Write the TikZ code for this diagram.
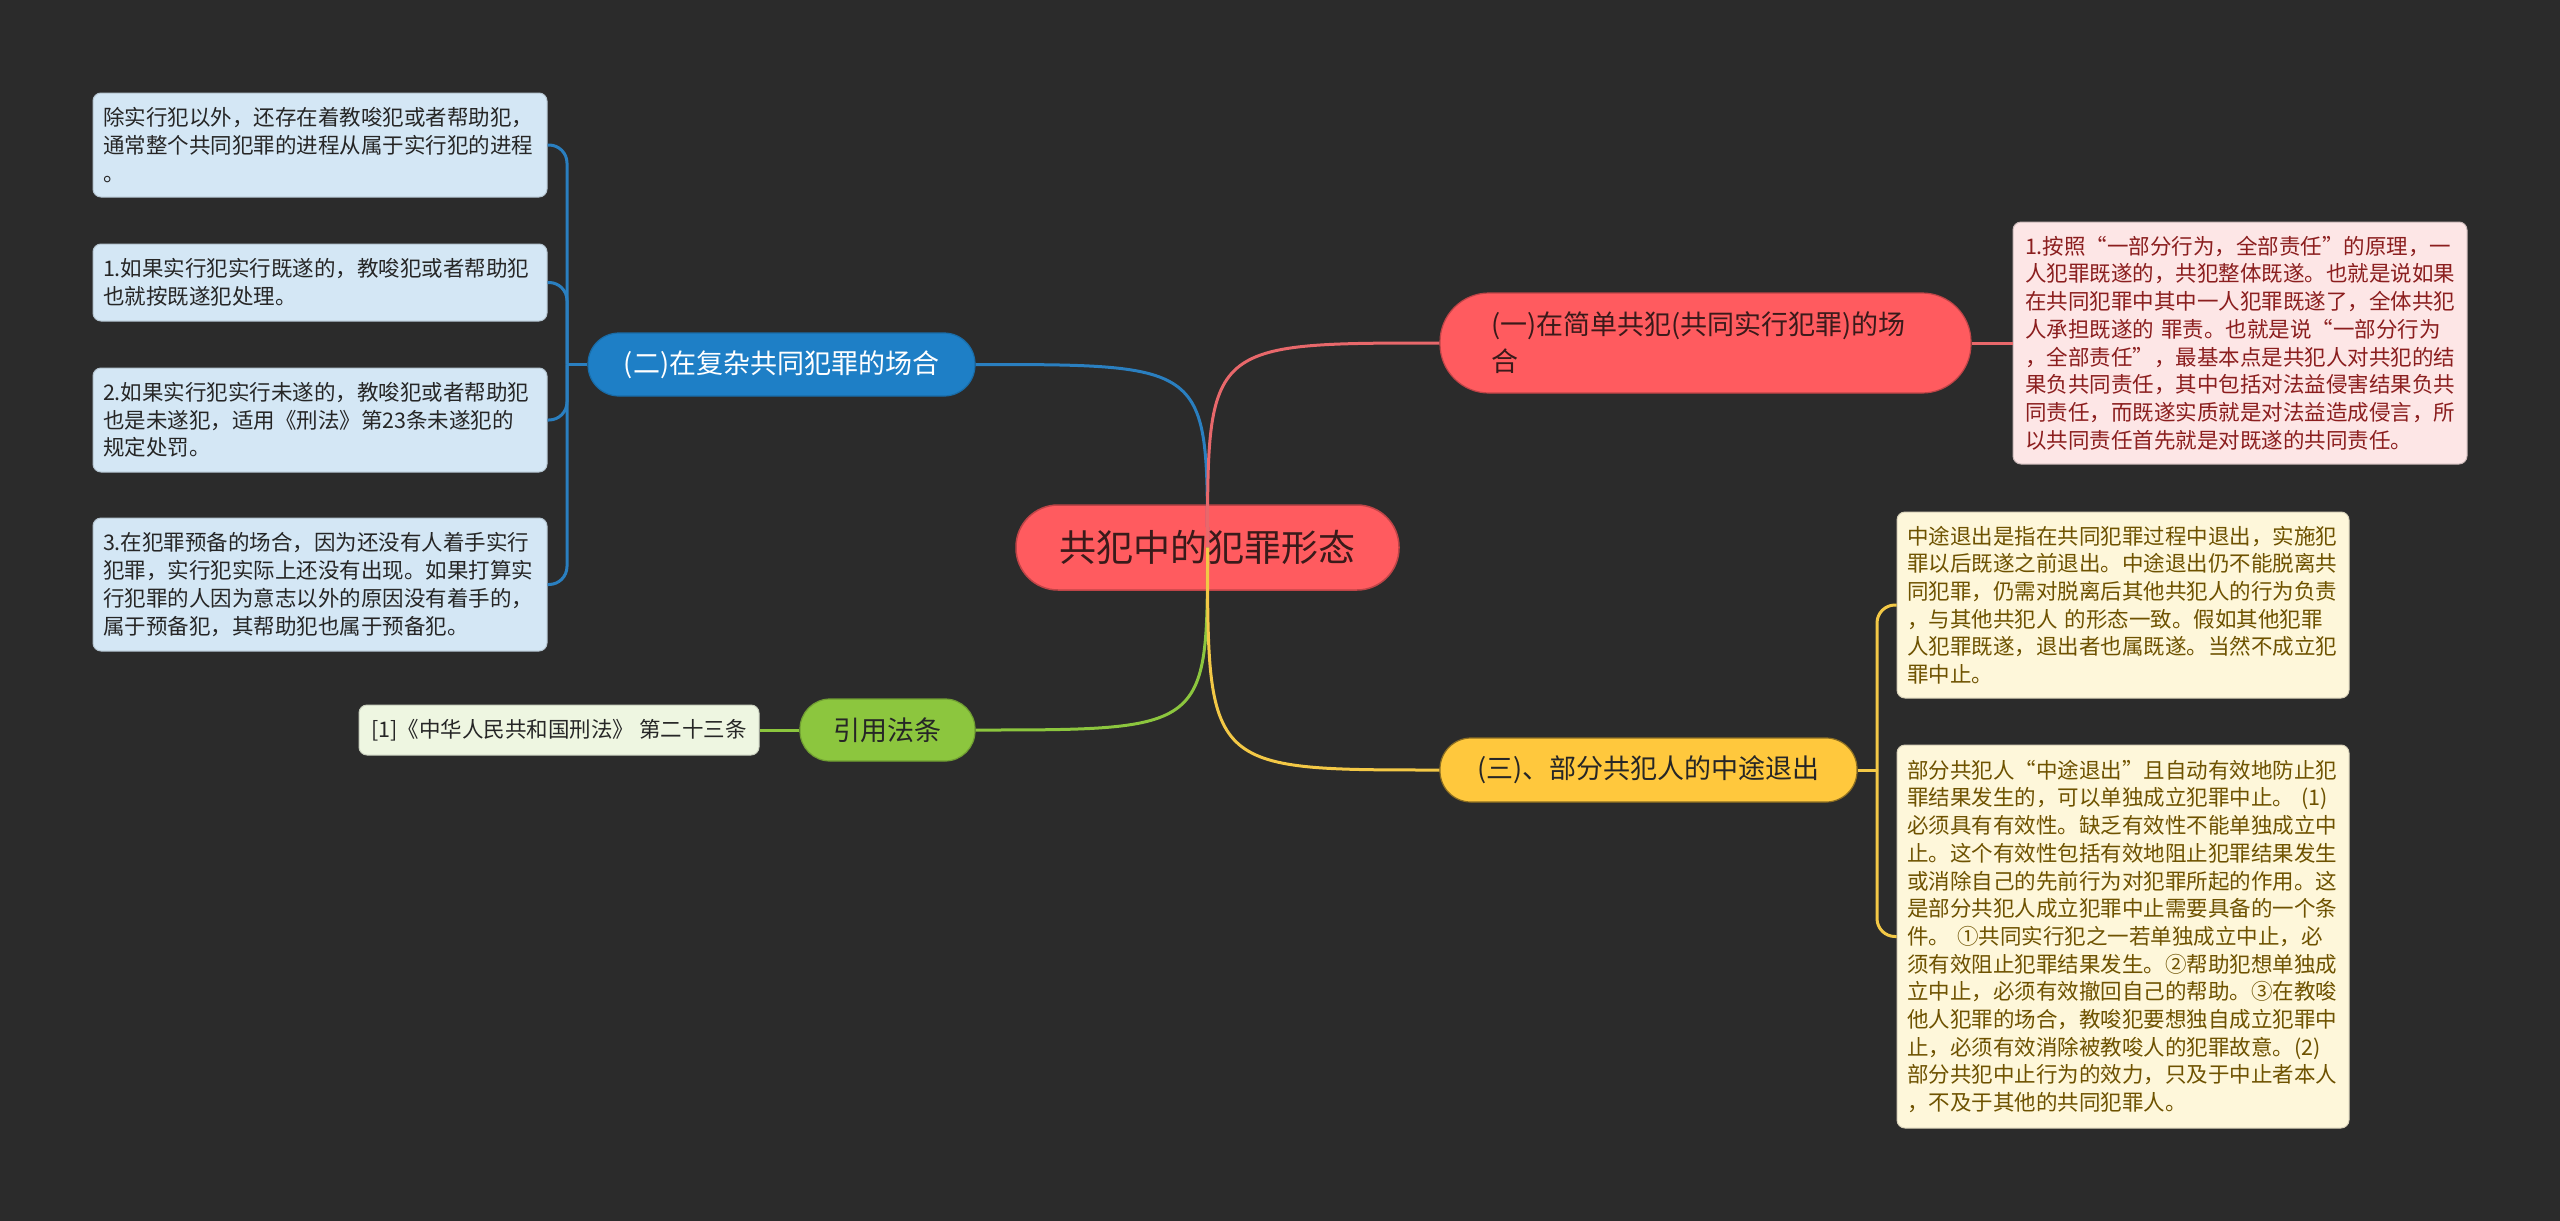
\documentclass[tikz,border=0pt]{standalone}
\usepackage{fontspec}
\setmainfont{Noto Sans CJK SC}
\usetikzlibrary{calc}
\definecolor{bgc}{HTML}{2B2B2B}
\definecolor{rootc}{HTML}{FF5B5F}
\definecolor{roottxt}{HTML}{3A1A1A}
\definecolor{redl}{HTML}{E8686B}
\definecolor{bluec}{HTML}{1E7FC6}
\definecolor{bluel}{HTML}{2A7FC0}
\definecolor{greenc}{HTML}{8CC63E}
\definecolor{yellowc}{HTML}{FFC83D}
\definecolor{yellowl}{HTML}{F3C846}
\definecolor{pinkbox}{HTML}{FDE6E6}
\definecolor{pinktxt}{HTML}{8B1E1E}
\definecolor{bluebox}{HTML}{D4E7F5}
\definecolor{yelbox}{HTML}{FEF7DA}
\definecolor{yeltxt}{HTML}{6E5200}
\definecolor{grnbox}{HTML}{EEF6E1}
\definecolor{darktxt}{HTML}{262626}
\newcommand\bxfont{\fontsize{21.5}{27.7}\selectfont}
\newcommand\pillfont{\fontsize{27}{37}\selectfont}
\newcommand\rootfont{\fontsize{37}{44}\selectfont}
\begin{document}
\begin{tikzpicture}[x=1pt,y=-1pt,
  leaf/.style={rounded corners=8pt, font=\bxfont, align=left, inner ysep=0pt, line width=1pt},
  bleaf/.style={leaf, fill=bluebox, draw=bluebox!85!black, text=darktxt, inner xsep=10pt, text width=434pt, minimum height=#1},
  yleaf/.style={leaf, fill=yelbox, draw=yelbox!85!black, text=yeltxt, inner xsep=10pt, text width=432pt, minimum height=#1},
  pleaf/.style={leaf, fill=pinkbox, draw=pinkbox!80!black, text=pinktxt, inner xsep=12pt, text width=430pt, minimum height=#1},
  pill/.style={font=\pillfont, inner sep=0pt, line width=1.2pt},
  conn/.style={line width=3pt},
]
\useasboundingbox (0,0) rectangle (2560,1221);
\fill[bgc] (0,0) rectangle (2560,1221);

% root
\node[fill=rootc, draw=rootc!75!black, line width=1.5pt, rounded corners=42pt,
  minimum width=383pt, minimum height=85pt, font=\rootfont, text=roottxt, inner sep=0pt]
  (root) at (1207.5,547.5) {共犯中的犯罪形态};

% main branches
\node[pill, fill=rootc, draw=rootc!75!black, rounded corners=49pt, minimum height=100pt,
  text width=429pt, inner xsep=51pt, align=left, text=roottxt]
  (red1) at (1705.5,343) {(一)在简单共犯(共同实行犯罪)的场\\合};
\node[pill, fill=bluec, draw=bluec!85!black, rounded corners=31pt, minimum height=63pt,
  minimum width=387pt, text=white] (blue) at (781.5,364.5) {(二)在复杂共同犯罪的场合};
\node[pill, fill=greenc, draw=greenc!80!black, rounded corners=30pt, minimum height=62pt,
  minimum width=175pt, text=darktxt] (green) at (887.5,730) {引用法条};
\node[pill, fill=yellowc, draw=yellowc!55!black, rounded corners=31pt, minimum height=64pt,
  minimum width=417pt, text=darktxt] (yellow) at (1648.5,770) {(三)、部分共犯人的中途退出};

% left leaves
\node[bleaf=104pt] (b1) at (320,145) {除实行犯以外，还存在着教唆犯或者帮助犯，\\通常整个共同犯罪的进程从属于实行犯的进程\\。};
\node[bleaf=77pt] (b2) at (320,282.5) {1.如果实行犯实行既遂的，教唆犯或者帮助犯\\也就按既遂犯处理。};
\node[bleaf=104pt] (b3) at (320,420) {2.如果实行犯实行未遂的，教唆犯或者帮助犯\\也是未遂犯，适用《刑法》第23条未遂犯的\\规定处罚。};
\node[bleaf=133pt] (b4) at (320,584.5) {3.在犯罪预备的场合，因为还没有人着手实行\\犯罪，实行犯实际上还没有出现。如果打算实\\行犯罪的人因为意志以外的原因没有着手的，\\属于预备犯，其帮助犯也属于预备犯。};

% reference leaf
\node[leaf, fill=grnbox, draw=grnbox!85!black, text=darktxt, minimum width=400pt, minimum height=50pt, inner sep=0pt]
  (ref) at (559,730) {[1]《中华人民共和国刑法》 第二十三条};

% pink leaf
\node[pleaf=242pt] (pink) at (2240,343) {1.按照“一部分行为，全部责任”的原理，一\\人犯罪既遂的，共犯整体既遂。也就是说如果\\在共同犯罪中其中一人犯罪既遂了，全体共犯\\人承担既遂的 罪责。也就是说“一部分行为\\，全部责任”，最基本点是共犯人对共犯的结\\果负共同责任，其中包括对法益侵害结果负共\\同责任，而既遂实质就是对法益造成侵言，所\\以共同责任首先就是对既遂的共同责任。};

% yellow leaves
\node[yleaf=186pt] (y1) at (2123,605) {中途退出是指在共同犯罪过程中退出，实施犯\\罪以后既遂之前退出。中途退出仍不能脱离共\\同犯罪，仍需对脱离后其他共犯人的行为负责\\，与其他共犯人 的形态一致。假如其他犯罪\\人犯罪既遂，退出者也属既遂。当然不成立犯\\罪中止。};
\node[yleaf=383pt] (y2) at (2123,936.5) {部分共犯人“中途退出”且自动有效地防止犯\\罪结果发生的，可以单独成立犯罪中止。 (1)\\必须具有有效性。缺乏有效性不能单独成立中\\止。这个有效性包括有效地阻止犯罪结果发生\\或消除自己的先前行为对犯罪所起的作用。这\\是部分共犯人成立犯罪中止需要具备的一个条\\件。 ①共同实行犯之一若单独成立中止，必\\须有效阻止犯罪结果发生。②帮助犯想单独成\\立中止，必须有效撤回自己的帮助。③在教唆\\他人犯罪的场合，教唆犯要想独自成立犯罪中\\止，必须有效消除被教唆人的犯罪故意。(2)\\部分共犯中止行为的效力，只及于中止者本人\\，不及于其他的共同犯罪人。};

% connectors from root
\draw[conn, bluel] (root.center) .. controls (root.center |- blue.east) .. (blue.east);
\draw[conn, redl] (root.center) .. controls (root.center |- red1.west) .. (red1.west);
\draw[conn, greenc] (root.center) .. controls (root.center |- green.east) .. (green.east);
\draw[conn, yellowl] (root.center) .. controls (root.center |- yellow.west) .. (yellow.west);

% red to pink
\draw[conn, redl] (red1.east) -- (pink.west);
% green to ref
\draw[conn, greenc] (green.west) -- (ref.east);

% blue bracket
\coordinate (bj) at (567,364.5);
\draw[conn, bluel] (blue.west) -- (bj);
\foreach \b in {b1,b2,b3,b4}
  \draw[conn, bluel, rounded corners=18pt] (bj) |- (\b.east);

% yellow bracket
\coordinate (yj) at (1877,770);
\draw[conn, yellowl] (yellow.east) -- (yj);
\foreach \b in {y1,y2}
  \draw[conn, yellowl, rounded corners=18pt] (yj) |- (\b.west);
\end{tikzpicture}
\end{document}
